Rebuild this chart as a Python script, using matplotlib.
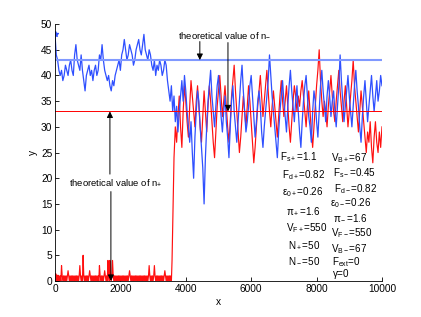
import numpy as np
import matplotlib
matplotlib.use('Agg')
import matplotlib.pyplot as plt

plt.rcParams['font.family'] = ['Liberation Sans', 'DejaVu Sans']
plt.rcParams['mathtext.fontset'] = 'custom'
plt.rcParams['mathtext.rm'] = 'Liberation Sans'
plt.rcParams['mathtext.it'] = 'Liberation Sans'

# muestras cada 40 unidades de x, 0..10000
paso = 40
n_menos = [48, 44, 43, 41, 40, 41, 39, 40, 42, 41,
           40, 42, 43, 41, 40, 44, 46, 43, 42, 41,
           44, 41, 39, 37, 40, 41, 42, 40, 41, 39,
           41, 42, 40, 41, 44, 43, 46, 43, 41, 40,
           39, 40, 38, 37, 39, 38, 40, 41, 42, 43,
           41, 44, 45, 47, 45, 43, 44, 46, 45, 44,
           42, 43, 45, 46, 47, 45, 44, 46, 48, 45,
           44, 43, 45, 44, 42, 41, 43, 40, 42, 41,
           43, 42, 40, 41, 43, 42, 39, 37, 35, 38,
           33, 36, 31, 34, 29, 33, 36, 39, 35, 40,
           37, 33, 30, 27, 31, 25, 20, 28, 33, 37,
           35, 30, 26, 22, 15, 24, 30, 35, 38, 41,
           36, 33, 30, 34, 38, 40, 36, 32, 29, 33,
           36, 31, 28, 24, 30, 35, 38, 33, 30, 27,
           31, 35, 39, 42, 37, 33, 29, 31, 34, 38,
           40, 36, 32, 28, 31, 35, 37, 34, 29, 26,
           30, 33, 36, 39, 44, 40, 36, 33, 30, 27,
           24, 29, 33, 36, 39, 35, 32, 29, 34, 38,
           41, 37, 34, 31, 35, 38, 33, 29, 26, 31,
           35, 38, 40, 36, 32, 30, 27, 33, 37, 35,
           31, 28, 33, 38, 41, 37, 34, 31, 36, 39,
           36, 32, 35, 37, 33, 30, 34, 38, 44, 39,
           35, 31, 34, 37, 40, 36, 33, 30, 34, 38,
           41, 37, 34, 30, 27, 32, 36, 39, 35, 31,
           34, 37, 40, 36, 33, 36, 39, 35, 37, 40,
           38]

# n+ antes del salto: muestras cada 20 unidades (0..3580)
paso_fino = 20
n_mas_bajo = [1, 0, 1, 0, 1, 0, 1, 0, 1, 0, 3, 1, 0, 1, 0, 1, 0, 1, 0, 1,
              2, 1, 0, 1, 0, 1, 0, 1, 0, 1, 0, 1, 0, 1, 0, 1, 0, 1, 3, 1,
              0, 1, 0, 5, 1, 0, 1, 0, 1, 0, 1, 0, 1, 2, 1, 0, 1, 0, 1, 0,
              1, 0, 1, 0, 1, 0, 1, 0, 3, 1, 0, 1, 0, 1, 0, 1, 2, 1, 0, 1,
              0, 4, 1, 0, 4, 1, 0, 1, 4, 1, 0, 1, 0, 1, 0, 1, 0, 1, 0, 1,
              0, 1, 0, 1, 0, 1, 0, 1, 0, 1, 0, 1, 0, 1, 2, 1, 0, 1, 0, 1,
              0, 1, 0, 1, 0, 1, 0, 1, 0, 1, 0, 1, 0, 1, 0, 1, 0, 1, 0, 1,
              0, 1, 0, 1, 3, 1, 0, 1, 0, 1, 0, 1, 3, 1, 0, 1, 0, 1, 0, 1,
              0, 1, 0, 1, 0, 1, 0, 1, 2, 1, 0, 1, 0, 1, 0, 1, 0, 1, 0, 4]
# n+ desde x=3600: muestras cada 40
n_mas_alto = [11, 24, 30, 27, 32, 36, 30, 26, 33, 38,
              35, 31, 28, 34, 39, 36, 33, 30, 35, 38,
              34, 30, 27, 32, 37, 33, 29, 34, 38, 35,
              31, 27, 24, 29, 34, 37, 40, 36, 32, 35,
              38, 34, 30, 27, 31, 36, 39, 42, 37, 33,
              29, 25, 28, 32, 36, 33, 30, 34, 38, 35,
              31, 27, 23, 26, 30, 34, 37, 40, 36, 32,
              35, 38, 41, 37, 33, 30, 34, 37, 34, 31,
              28, 32, 36, 39, 35, 32, 35, 38, 34, 30,
              27, 31, 35, 38, 36, 33, 36, 34, 37, 39,
              36, 33, 30, 34, 37, 33, 29, 26, 30, 34,
              38, 41, 45, 39, 35, 32, 35, 33, 30, 34,
              37, 40, 36, 33, 31, 35, 38, 41, 37, 34,
              31, 35, 38, 34, 30, 33, 36, 39, 43, 38,
              35, 32, 29, 33, 37, 34, 31, 28, 25, 29,
              27, 31, 26, 23, 28, 31, 27, 25, 29, 26,
              30]
x_salto = 3600
teorico_menos = 43
teorico_mas = 33

parametros_izq = [r'F$_{s+}$=1.1', r'F$_{d+}$=0.82', r'$\varepsilon_{0+}$=0.26',
                  r'$\pi_+$=1.6', r'V$_{F+}$=550', r'N$_+$=50', r'N$_-$=50']
parametros_der = [r'V$_{B+}$=67', r'F$_{s-}$=0.45', r'F$_{d-}$=0.82',
                  r'$\varepsilon_{0-}$=0.26', r'$\pi_-$=1.6', r'V$_{F-}$=550',
                  r'V$_{B-}$=67', r'F$_{ext}$=0', r'$\gamma$=0']

x = np.arange(len(n_menos)) * paso
x_mas = np.concatenate([np.arange(len(n_mas_bajo)) * paso_fino,
                        x_salto + np.arange(len(n_mas_alto)) * paso])
n_mas = n_mas_bajo + n_mas_alto

fig = plt.figure(figsize=(4.21, 3.17), dpi=100)
ax = fig.add_axes([0.1306, 0.1136, 0.7767, 0.8104])

ax.plot(x_mas, n_mas, color='#ff1010', linewidth=0.85, marker='*', markevery=[0], markersize=4)
ax.plot(x, n_menos, color='#2f50ff', linewidth=0.9, marker='*', markevery=[0], markersize=4)
ax.axhline(teorico_menos, color='#8099ff', linewidth=1.5)
ax.axhline(teorico_mas, color='#ff0000', linewidth=0.7)

flecha = dict(arrowstyle='-|>', color='black', linewidth=0.7, mutation_scale=9, shrinkA=0, shrinkB=0)
ax.annotate('', xy=(4430, teorico_menos), xytext=(4430, 46.6), arrowprops=flecha)
ax.annotate('', xy=(5290, teorico_mas), xytext=(5290, 46.4), arrowprops=flecha)
ax.text(5180, 47.8, r'theoretical value of n$_{-}$', fontsize=6.8, ha='center', va='center')
ax.annotate('', xy=(1680, teorico_mas), xytext=(1680, 20.8), arrowprops=flecha)
ax.annotate('', xy=(1710, 0), xytext=(1710, 17.4), arrowprops=flecha)
ax.text(1870, 19.1, r'theoretical value of n$_{+}$', fontsize=6.8, ha='center', va='center')

ys_izq = [157, 175, 192, 211, 228, 245, 261]
xs_izq = [280, 282, 282, 286, 286, 288, 288]
for s, px, py in zip(parametros_izq, xs_izq, ys_izq):
    fig.text(px / 421, 1 - py / 317, s, fontsize=7.1, va='center')
ys_der = [158, 173, 189, 203, 218, 233, 249, 262, 274]
xs_der = [331, 333, 334, 330, 333, 331, 331, 332, 332]
for s, px, py in zip(parametros_der, xs_der, ys_der):
    fig.text(px / 421, 1 - py / 317, s, fontsize=7.1, va='center')

ax.set_xlim(0, 10000)
ax.set_ylim(0, 50)
ax.set_xticks(np.arange(0, 10001, 2000))
ax.set_yticks(np.arange(0, 51, 5))
ax.tick_params(direction='in', length=3, width=0.6, labelsize=7.3, pad=2)
ax.spines['top'].set_visible(False)
ax.spines['right'].set_visible(False)
ax.spines['left'].set_linewidth(0.6)
ax.spines['bottom'].set_linewidth(0.6)
ax.set_xlabel('x', fontsize=7.3, labelpad=2)
ax.set_ylabel('y', fontsize=7.3, labelpad=2)

fig.savefig('out.png', dpi=100)
